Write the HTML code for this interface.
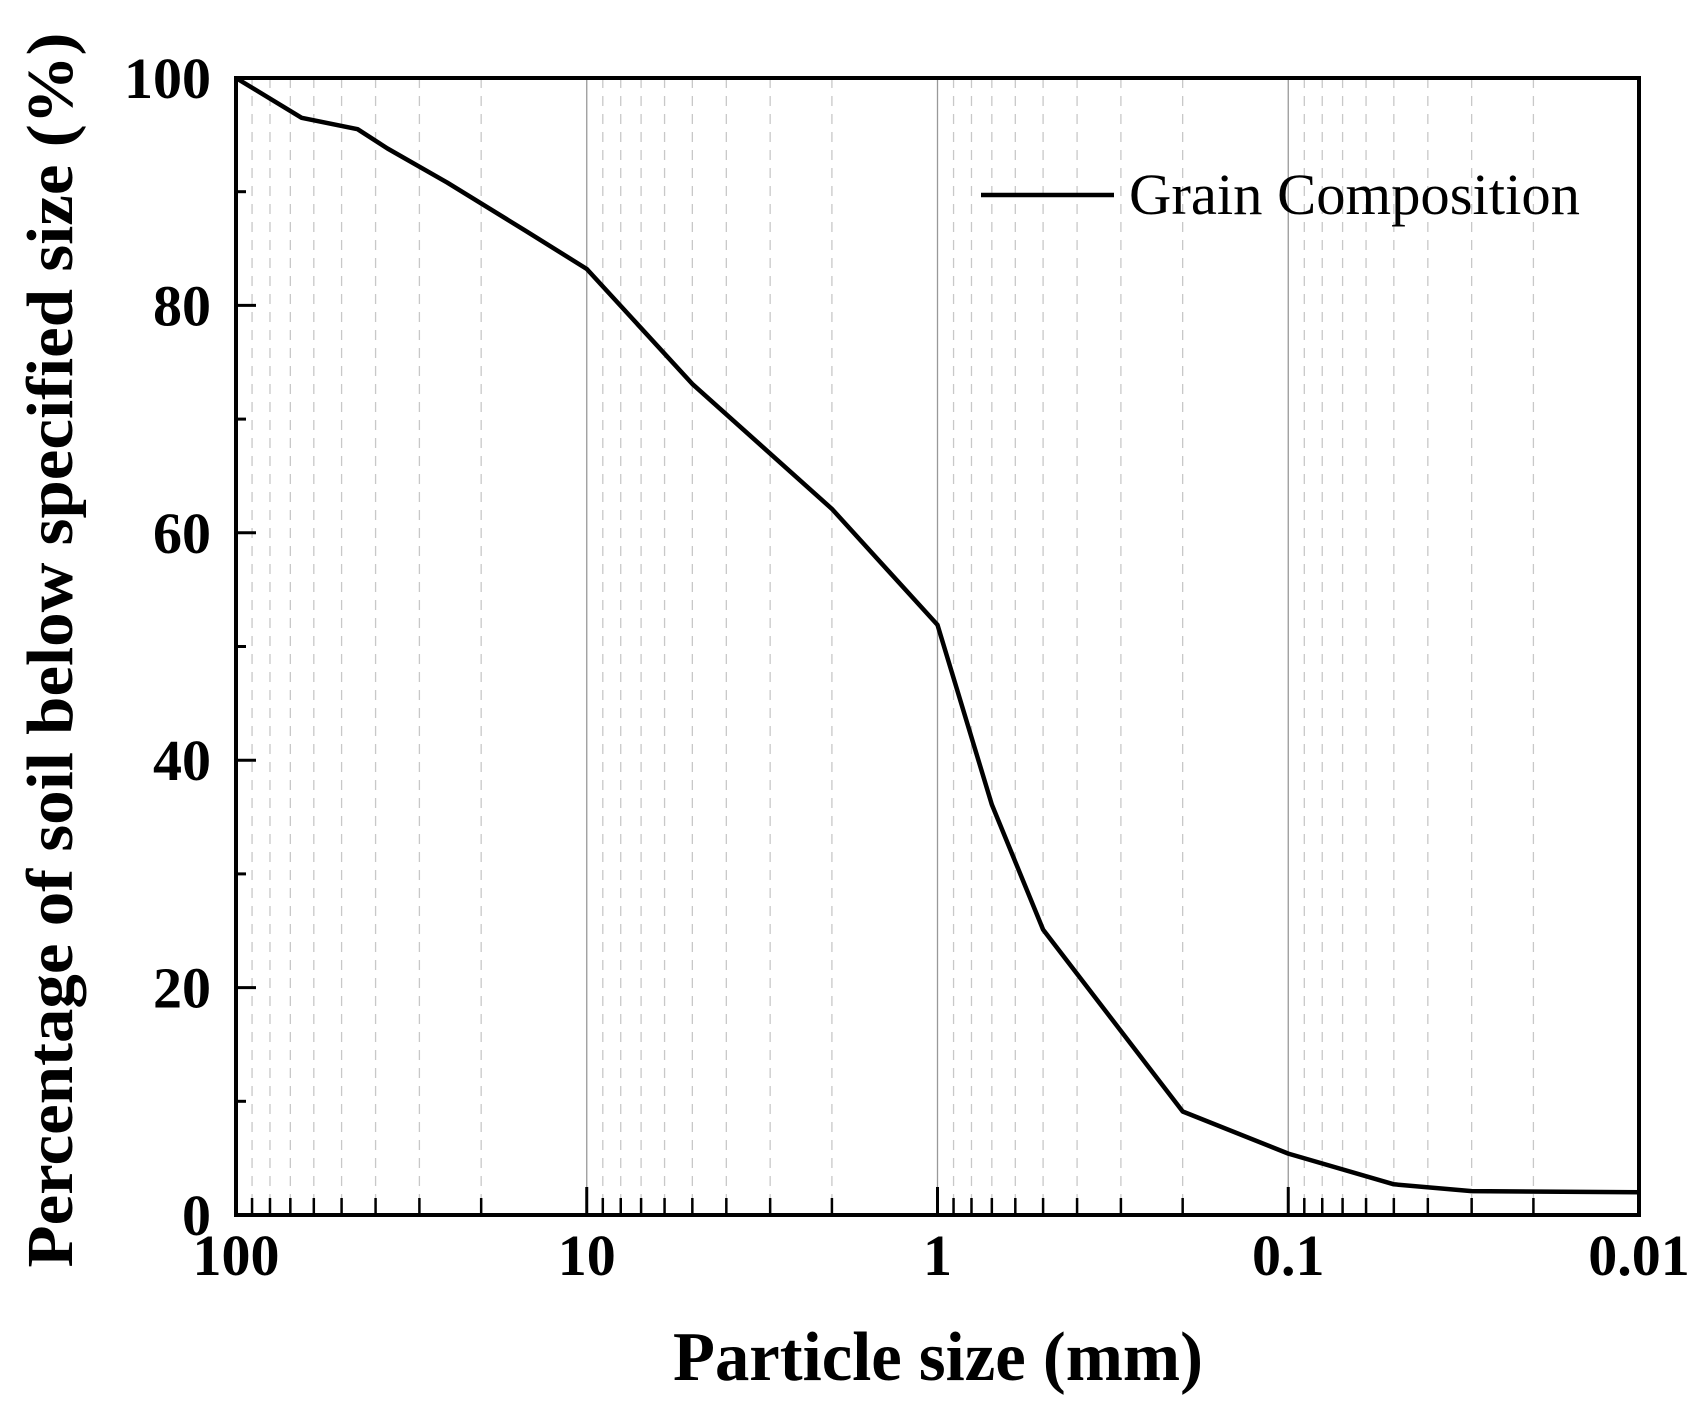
<!DOCTYPE html>
<html><head><meta charset="utf-8"><style>
body{margin:0;background:#fff}
svg{display:block;font-family:"Liberation Serif",serif}
</style></head><body>
<svg id="chart" width="1701" height="1415" viewBox="0 0 1701 1415">
<g id="grid"></g>
<g id="ticks"></g>
<g id="series"></g>
<rect x="236" y="78" width="1403" height="1137" fill="none" stroke="#000" stroke-width="4"/>
<g id="labels" font-weight="bold" font-size="58"></g>
<text x="938" y="1380" font-size="70" font-weight="bold" text-anchor="middle" textLength="530" lengthAdjust="spacingAndGlyphs">Particle size (mm)</text>
<text transform="translate(72,650) rotate(-90)" font-size="66" font-weight="bold" text-anchor="middle" textLength="1235" lengthAdjust="spacingAndGlyphs">Percentage of soil below specified size (%)</text>
<g>
<line x1="981" y1="195" x2="1114" y2="195" stroke="#000" stroke-width="4.5"/>
<text x="1129" y="214" font-size="58" textLength="451" lengthAdjust="spacingAndGlyphs">Grain Composition</text>
</g>
</svg>
<script>
const sizes = [100, 65, 45, 37, 25, 15, 10, 5, 2, 1, 0.7, 0.5, 0.2, 0.1, 0.05, 0.03, 0.01];
const percents = [100, 96.5, 95.5, 93.8, 90.8, 86.6, 83.2, 73.1, 62.1, 51.9, 36.1, 25.1, 9.1, 5.4, 2.7, 2.1, 2.0];
const xTickValues = [100, 10, 1, 0.1, 0.01];
const xTickLabels = ["100", "10", "1", "0.1", "0.01"];
const yTickValues = [0, 20, 40, 60, 80, 100];
const NS = "http://www.w3.org/2000/svg";
const L = 236, R = 1639, T = 78, B = 1215;
function xs(v){ return L + (Math.log10(100) - Math.log10(v)) / 4 * (R - L); }
function ys(v){ return B - v / 100 * (B - T); }
function mk(tag, attrs, parent){ const e = document.createElementNS(NS, tag); for (const k in attrs) e.setAttribute(k, attrs[k]); parent.appendChild(e); return e; }
const grid = document.getElementById('grid'), ticks = document.getElementById('ticks'), labels = document.getElementById('labels'), series = document.getElementById('series');
for (let d = 0; d < 4; d++) {
  const base = Math.pow(10, 2 - d);
  for (let m = 2; m <= 9; m++) {
    const v = base / 10 * m;
    const x = xs(v);
    const g = mk('line', {x1:x, y1:T, x2:x, y2:B, stroke:'#c8c8c8', 'stroke-width':1.3, 'stroke-dasharray':'10,8'}, grid);
    
    
    const t = mk('line', {x1:x, y1:B, x2:x, y2:B-17, stroke:'#000', 'stroke-width':2.5}, ticks);
    
    
  }
}
xTickValues.forEach((v, i) => {
  const x = xs(v);
  if (i > 0 && i < xTickValues.length - 1) {
    const g = mk('line', {x1:x, y1:T, x2:x, y2:B, stroke:'#999', 'stroke-width':1.3}, grid);
    
    
  }
  const t = mk('line', {x1:x, y1:B, x2:x, y2:B-28, stroke:'#000', 'stroke-width':3}, ticks);
  
  
  const tx = mk('text', {x:x, y:1275, 'text-anchor':'middle'}, labels);
  tx.textContent = xTickLabels[i];
  
  
});
for (let v = 10; v < 100; v += 20) {
  const y = ys(v);
  const t = mk('line', {x1:L, y1:y, x2:L+10, y2:y, stroke:'#000', 'stroke-width':3}, ticks);
  
  
}
yTickValues.forEach(v => {
  const y = ys(v);
  const t = mk('line', {x1:L, y1:y, x2:L+20, y2:y, stroke:'#000', 'stroke-width':3}, ticks);
  
  
  const tx = mk('text', {x:211, y:y+20, 'text-anchor':'end'}, labels);
  tx.textContent = String(v);
  
  
});
const pts = sizes.map((s, i) => xs(s).toFixed(1) + ',' + ys(percents[i]).toFixed(1)).join(' ');
const pl = mk('polyline', {points:pts, fill:'none', stroke:'#000', 'stroke-width':4.5, 'stroke-linejoin':'round'}, series);


</script>
</body></html>
